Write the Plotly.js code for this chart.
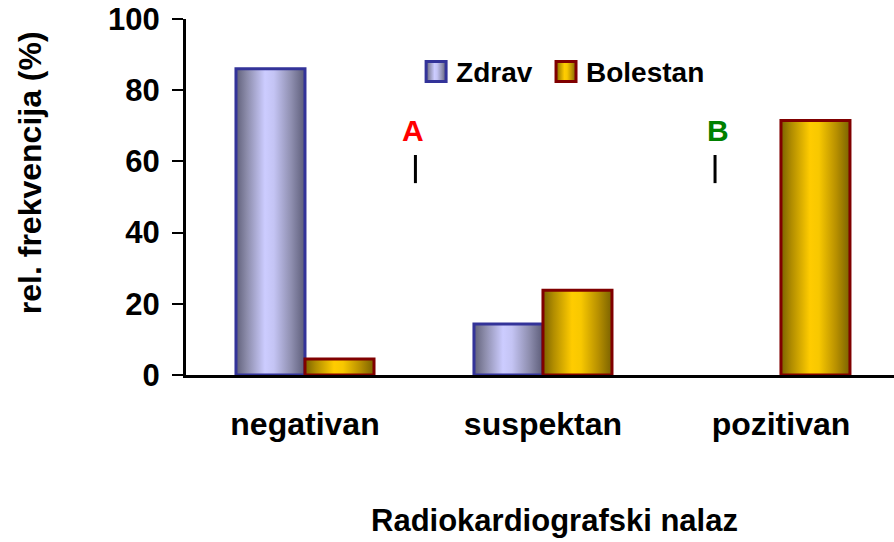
<!DOCTYPE html>
<html>
<head>
<meta charset="utf-8">
<script src="https://cdn.plot.ly/plotly-3.0.1.min.js"></script>
<style>
  html, body { margin: 0; padding: 0; background: #ffffff; }
  #chart { width: 894px; height: 542px; }
</style>
</head>
<body>
<div id="chart"></div>
<script>
// ---- data ----
const categories = ["negativan", "suspektan", "pozitivan"];
const zdravValues = [86, 14.3, 0];
const bolestanValues = [4.5, 23.8, 71.5];
const seriesNames = ["Zdrav", "Bolestan"];
const yTickValues = [0, 20, 40, 60, 80, 100];
const yTitle = "rel. frekvencija (%)";
const xTitle = "Radiokardiografski nalaz";
const markLabels = ["A", "B"];

const FONT = "Liberation Sans, Arial, Helvetica, sans-serif";

// outline only for bars that have a height (a zero bar is not drawn in the original)
const outline = vals => vals.map(v => (v > 0 ? 3 : 0));

const traces = [
  {
    type: "bar", name: seriesNames[0], x: categories, y: zdravValues, legend: "legend",
    marker: { color: "#aaaadd", line: { color: "#333399", width: outline(zdravValues) } },
    hoverinfo: "skip"
  },
  {
    type: "bar", name: seriesNames[1], x: categories, y: bolestanValues, legend: "legend2",
    marker: { color: "#e0b000", line: { color: "#800000", width: outline(bolestanValues) } },
    hoverinfo: "skip"
  }
];

const legendBase = {
  orientation: "h", xanchor: "left", yanchor: "middle", y: 0.852,
  font: { family: FONT, size: 28, color: "#000", weight: "bold" },
  bgcolor: "rgba(0,0,0,0)", borderwidth: 0
};

const layout = {
  width: 894, height: 542,
  margin: { l: 186, r: 0, t: 19, b: 167 },
  paper_bgcolor: "#ffffff", plot_bgcolor: "#ffffff",
  font: { family: FONT, color: "#000000", weight: "bold" },
  barmode: "group", bargap: 0.42, bargroupgap: 0,
  showlegend: true,
  legend: Object.assign({}, legendBase, { x: 0.325 }),
  legend2: Object.assign({}, legendBase, { x: 0.5085 }),
  xaxis: {
    type: "category", range: [-0.5, 2.475], fixedrange: true,
    showline: true, linewidth: 3, linecolor: "#000", mirror: false,
    ticks: "", showgrid: false, zeroline: false,
    tickfont: { family: FONT, size: 32, color: "#000", weight: "bold" },
    ticklabelstandoff: 19,
    automargin: false
  },
  yaxis: {
    range: [0, 100], tickvals: yTickValues, fixedrange: true,
    showline: true, linewidth: 3, linecolor: "#000",
    ticks: "outside", ticklen: 11, tickwidth: 2, tickcolor: "#000",
    showgrid: false, zeroline: false,
    tickfont: { family: FONT, size: 31, color: "#000", weight: "bold" },
    ticklabelstandoff: 6,
    automargin: false
  },
  annotations: [
    { text: yTitle, xref: "paper", yref: "paper", x: -0.2203, y: 0.567,
      textangle: -90, showarrow: false, xanchor: "center", yanchor: "middle",
      font: { family: FONT, size: 32, color: "#000", weight: "bold" } },
    { text: xTitle, xref: "paper", yref: "paper", x: 0.5198, y: -0.41,
      showarrow: false, xanchor: "center", yanchor: "middle",
      font: { family: FONT, size: 31, color: "#000", weight: "bold" } },
    { text: markLabels[0], xref: "x", yref: "y", x: 0.453, y: 68.8, showarrow: false,
      xanchor: "center", yanchor: "middle",
      font: { family: FONT, size: 30, color: "#ff0000", weight: "bold" } },
    { text: markLabels[1], xref: "x", yref: "y", x: 1.736, y: 68.8, showarrow: false,
      xanchor: "center", yanchor: "middle",
      font: { family: FONT, size: 30, color: "#008000", weight: "bold" } }
  ],
  shapes: [
    { type: "line", xref: "x", yref: "y", x0: 0.464, x1: 0.464, y0: 53.9, y1: 61.8,
      line: { color: "#000", width: 3 } },
    { type: "line", xref: "x", yref: "y", x0: 1.723, x1: 1.723, y0: 53.9, y1: 61.8,
      line: { color: "#000", width: 3 } }
  ]
};

const gradients = [
  { id: "gradZdrav", stops: [[0, "#60607a"], [0.15, "#8a8aa8"], [0.42, "#ccccff"], [0.55, "#c4c4f4"], [0.8, "#8f8fb0"], [1, "#5c5c78"]] },
  { id: "gradBolestan", stops: [[0, "#7a6200"], [0.15, "#b08c00"], [0.42, "#ffcc00"], [0.55, "#f8c800"], [0.8, "#b89000"], [1, "#7a6200"]] }
];

function applyGradients(gd) {
  const svg = gd.querySelector("svg.main-svg");
  if (!svg) return;
  const NS = "http://www.w3.org/2000/svg";
  let defs = svg.querySelector("defs");
  if (!defs) { defs = document.createElementNS(NS, "defs"); svg.insertBefore(defs, svg.firstChild); }
  gradients.forEach(g => {
    if (svg.querySelector("#" + g.id)) return;
    const lg = document.createElementNS(NS, "linearGradient");
    lg.setAttribute("id", g.id);
    lg.setAttribute("x1", "0"); lg.setAttribute("x2", "1");
    lg.setAttribute("y1", "0"); lg.setAttribute("y2", "0");
    g.stops.forEach(s => {
      const st = document.createElementNS(NS, "stop");
      st.setAttribute("offset", s[0]);
      st.setAttribute("stop-color", s[1]);
      lg.appendChild(st);
    });
    defs.appendChild(lg);
  });
  const barTraces = gd.querySelectorAll(".barlayer .trace");
  barTraces.forEach((t, i) => {
    t.querySelectorAll(".point path").forEach(p => { p.style.fill = "url(#" + gradients[i].id + ")"; });
  });
  ["legend", "legend2"].forEach((cls, i) => {
    gd.querySelectorAll("." + cls + " .legendpoints path").forEach(p => {
      p.setAttribute("d", "M10,10H-10V-10H10Z");
      p.style.fill = "url(#" + gradients[i].id + ")";
      p.style.strokeWidth = "3px";
    });
  });
}

const gd = document.getElementById("chart");
Plotly.newPlot(gd, traces, layout, { staticPlot: true, displayModeBar: false }).then(() => {
  applyGradients(gd);
  gd.on && gd.on("plotly_afterplot", () => applyGradients(gd));
});
</script>
</body>
</html>
